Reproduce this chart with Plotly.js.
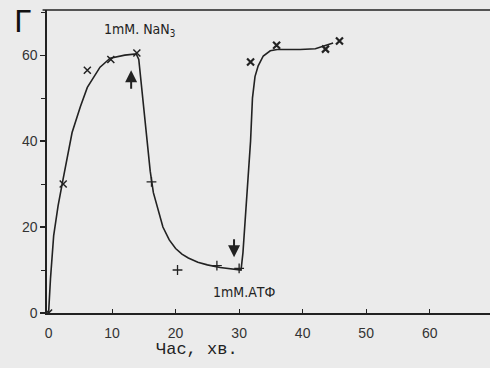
<!DOCTYPE html>
<html>
<head>
<meta charset="utf-8">
<script src="https://cdn.plot.ly/plotly-3.0.1.min.js"></script>
<style>
html,body{margin:0;padding:0;background:#ebebeb;}
#chart{width:490px;height:368px;}
</style>
</head>
<body>
<div id="chart"></div>
<script>
// Traced curve (time, min ; Г value)
var curveTime = [0, 0.3, 0.8, 1.5, 2.2, 3.1, 3.7, 5, 6.1, 8.1, 9.7, 12, 13.8,
  14.2, 14.8, 15.4, 16, 16.5, 17.2, 18, 19, 20, 21, 22, 23.5, 25, 27, 29, 30.3,
  30.6, 31, 31.4, 31.8, 32.1, 32.5, 33, 33.8, 34.9, 36, 39.6, 42, 44.8];
var curveValue = [0, 8, 18, 25, 30.5, 38, 42, 48, 52.5, 57.2, 59.3, 60, 60.3,
  59, 50, 42, 33, 28, 24, 20, 17, 15, 13.7, 12.8, 11.8, 11.2, 10.6, 10.2, 10,
  14, 22, 30, 40, 50, 55, 57.5, 59.8, 61, 61.3, 61.3, 61.5, 62.8];

// Measured points
var riseTime = [0, 2.3, 6.1, 9.8, 13.9];
var riseValue = [0, 30, 56.5, 59, 60.5];
var decayTime = [16.2, 20.3, 26.5, 30];
var decayValue = [30.5, 10, 11, 10.4];
var recoveryTime = [31.8, 35.9, 43.6, 45.8];
var recoveryValue = [58.4, 62.3, 61.4, 63.3];

// Additions (arrows)
var additionTime = [13.0, 29.2];
var additionTip = [56.5, 13];
var additionTail = [51.8, 17.5];
var additionLabel = ['1mM. NaN<sub>3</sub>', '1mM.АТФ'];
var additionLabelX = [14.3, 30.7];
var additionLabelY = [65.8, 4.9];

var xTicks = [0, 10, 20, 30, 40, 50, 60];
var yTicks = [0, 20, 40, 60];

var ink = '#222222';

var traces = [
  {x: curveTime, y: curveValue, mode: 'lines', type: 'scatter',
   line: {color: ink, width: 1.6}, hoverinfo: 'skip'},
  {x: riseTime, y: riseValue, mode: 'markers', type: 'scatter',
   marker: {symbol: 'x-thin', size: 7, color: ink, line: {color: ink, width: 1.5}}},
  {x: decayTime, y: decayValue, mode: 'markers', type: 'scatter',
   marker: {symbol: 'cross-thin', size: 7, color: ink, line: {color: ink, width: 1.3}}},
  {x: recoveryTime, y: recoveryValue, mode: 'markers', type: 'scatter',
   marker: {symbol: 'x-thin', size: 7, color: ink, line: {color: ink, width: 2.2}}}
];

var labelFont = {family: 'DejaVu Sans Condensed, Liberation Sans Narrow, Liberation Sans', size: 14, color: ink};

var annotations = [];
for (var i = 0; i < additionTime.length; i++) {
  annotations.push({
    x: additionTime[i], y: additionTip[i], xref: 'x', yref: 'y',
    ax: additionTime[i], ay: additionTail[i], axref: 'x', ayref: 'y',
    text: '', showarrow: true, arrowhead: 2, arrowsize: 1.2, arrowwidth: 2,
    arrowcolor: ink, standoff: 0, startstandoff: 0
  });
  annotations.push({
    x: additionLabelX[i], y: additionLabelY[i], xref: 'x', yref: 'y',
    text: additionLabel[i], showarrow: false, font: labelFont,
    xanchor: 'center', yanchor: 'middle'
  });
}
annotations.push({
  x: -0.054, y: 0.962, xref: 'paper', yref: 'paper', text: 'Г', showarrow: false,
  font: {family: 'DejaVu Sans', size: 30, color: '#111'}, xanchor: 'center', yanchor: 'middle'
});
annotations.push({
  x: 0.339, y: -0.122, xref: 'paper', yref: 'paper', text: 'Час, хв.', showarrow: false,
  font: {family: 'Liberation Mono, DejaVu Sans Mono', size: 17, color: ink},
  xanchor: 'center', yanchor: 'middle'
});

var tickFont = {family: 'Liberation Sans, Arial', size: 14, color: '#333'};

var layout = {
  width: 490, height: 368,
  margin: {l: 47, r: 0, t: 10, b: 55},
  paper_bgcolor: '#ebebeb', plot_bgcolor: '#ebebeb',
  showlegend: false,
  xaxis: {
    range: [-0.25, 69.5], tickvals: xTicks, ticktext: xTicks.map(String),
    showgrid: false, zeroline: false, showline: true, linecolor: ink, linewidth: 1.6,
    ticks: 'inside', ticklen: 4, tickcolor: ink, tickwidth: 1,
    tickfont: tickFont, ticklabelstandoff: 7
  },
  yaxis: {
    range: [0, 70.5], tickvals: yTicks, ticktext: yTicks.map(String),
    showgrid: false, zeroline: false, showline: true, linecolor: ink, linewidth: 1.6,
    ticks: 'outside', ticklen: 5, tickcolor: ink, tickwidth: 1.2,
    minor: {dtick: 10, ticks: 'outside', ticklen: 4, tickcolor: ink, tickwidth: 1, showgrid: false},
    tickfont: tickFont
  },
  shapes: [{type: 'line', xref: 'paper', yref: 'paper', x0: -0.01, x1: 1, y0: 1, y1: 1,
            line: {color: ink, width: 1.6}}],
  annotations: annotations
};

Plotly.newPlot('chart', traces, layout, {staticPlot: true, displayModeBar: false});
</script>
</body>
</html>
